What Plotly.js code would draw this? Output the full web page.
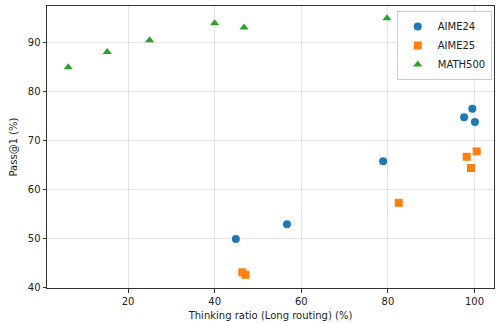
<!DOCTYPE html>
<html><head><meta charset="utf-8">
<script src="https://cdn.plot.ly/plotly-3.0.1.min.js"></script>
<style>html,body{margin:0;padding:0;background:#fff}</style>
</head><body><div id="chart" style="width:496px;height:324px"></div>
<script>
const aime24X = [44.9, 56.7, 78.9, 97.6, 99.5, 100.1];
const aime24Y = [49.9, 52.9, 65.8, 74.8, 76.5, 73.8];
const aime25X = [46.4, 47.1, 82.5, 98.2, 99.2, 100.5];
const aime25Y = [43.1, 42.6, 57.3, 66.7, 64.4, 67.8];
const math500X = [6.2, 15.2, 25.0, 40.0, 46.8, 79.8];
const math500Y = [85.0, 88.1, 90.5, 94.0, 93.1, 95.0];
const seriesNames = ["AIME24", "AIME25", "MATH500"];
const xTitle = "Thinking ratio (Long routing) (%)";
const yTitle = "Pass@1 (%)";

const font = {family: "DejaVu Sans", size: 10, color: "#222"};
const traces = [
  {x: aime24X, y: aime24Y, name: seriesNames[0], type: "scatter", mode: "markers",
   marker: {symbol: "circle", size: 8, color: "#1f77b4"}},
  {x: aime25X, y: aime25Y, name: seriesNames[1], type: "scatter", mode: "markers",
   marker: {symbol: "square", size: 8, color: "#ff7f0e"}},
  {x: math500X, y: math500Y, name: seriesNames[2], type: "scatter", mode: "markers",
   marker: {symbol: "triangle-up", size: 8, color: "#2ca02c"}}
];
const axisCommon = {
  showline: true, mirror: true, linecolor: "#333", linewidth: 1,
  ticks: "outside", ticklen: 3.5, tickcolor: "#333", tickwidth: 1,
  showgrid: true, gridcolor: "rgba(0,0,0,0.1)", gridwidth: 1,
  zeroline: false, tickfont: font
};
const layout = {
  width: 496, height: 324,
  margin: {l: 47, r: 2, t: 6, b: 36},
  paper_bgcolor: "#fff", plot_bgcolor: "#fff",
  font: font,
  showlegend: true,
  legend: {x: 0.995, y: 0.982, xanchor: "right", yanchor: "top",
           bgcolor: "rgba(255,255,255,0.8)", bordercolor: "#ccc", borderwidth: 1,
           font: font, itemwidth: 30, tracegroupgap: 0},
  xaxis: Object.assign({}, axisCommon, {range: [1.3, 104.5], tickvals: [20, 40, 60, 80, 100],
    title: {text: xTitle, font: font, standoff: 6}}),
  yaxis: Object.assign({}, axisCommon, {range: [39.9, 97.5], tickvals: [40, 50, 60, 70, 80, 90],
    title: {text: yTitle, font: font, standoff: 8}})
};
Plotly.newPlot("chart", traces, layout, {displayModeBar: false, staticPlot: true});
</script></body></html>
